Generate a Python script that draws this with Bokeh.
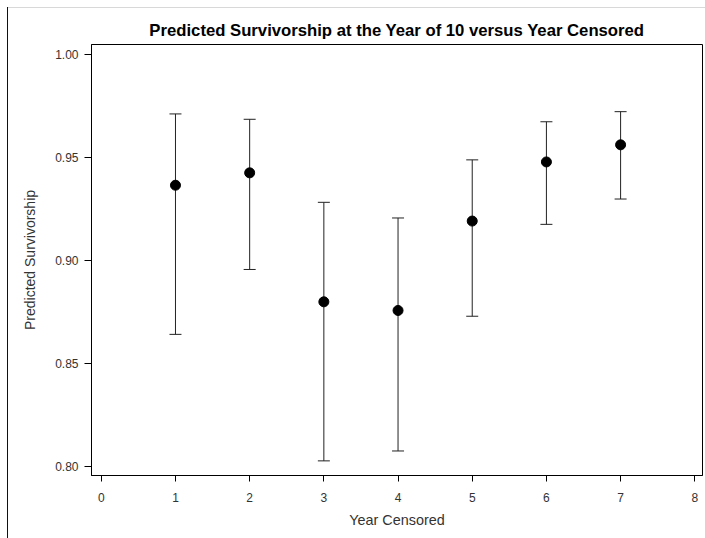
from bokeh.plotting import figure
from bokeh.models import Range1d, FixedTicker, Whisker, ColumnDataSource, TeeHead, InlineStyleSheet
from bokeh.embed import file_html
from bokeh.resources import INLINE

years = [1, 2, 3, 4, 5, 6, 7]
survival = [0.9364, 0.9424, 0.8798, 0.8756, 0.9190, 0.9477, 0.9560]
lower = [0.8640, 0.8955, 0.8026, 0.8074, 0.8728, 0.9174, 0.9297]
upper = [0.9710, 0.9684, 0.9281, 0.9205, 0.9487, 0.9672, 0.9721]
x_ticks = [0, 1, 2, 3, 4, 5, 6, 7, 8]
y_ticks = [0.80, 0.85, 0.90, 0.95, 1.00]

src = ColumnDataSource(dict(x=years, y=survival, lo=lower, hi=upper))

FONT = "Liberation Sans"

p = figure(width=705, height=538, output_backend="svg", toolbar_location=None,
           x_range=Range1d(-0.132, 8.104), y_range=Range1d(0.7955, 1.0047),
           min_border_left=91, min_border_right=3, min_border_top=44, min_border_bottom=63,
           title="Predicted Survivorship at the Year of 10 versus Year Censored")

p.title.align = "center"
p.title.text_font = FONT
p.title.text_font_size = "16.7px"
p.title.text_font_style = "bold"
p.title.text_color = "black"

p.grid.visible = False
p.outline_line_color = "black"
p.outline_line_width = 1
p.background_fill_color = "white"
p.border_fill_color = "white"

for ax in (p.xaxis[0], p.yaxis[0]):
    ax.major_tick_in = 0
    ax.minor_tick_out = 0
    ax.minor_tick_in = 0
    ax.major_tick_line_color = "black"
    ax.axis_line_color = "black"
    ax.major_label_text_font = FONT
    ax.major_label_text_font_size = "12px"
    ax.major_label_text_color = "#333333"
    ax.axis_label_text_font = FONT
    ax.axis_label_text_font_style = "normal"
    ax.axis_label_text_color = "#333333"

p.xaxis.major_tick_out = 6
p.xaxis.major_label_standoff = 11
p.xaxis.axis_label_standoff = 7
p.xaxis.axis_label_text_font_size = "14.4px"
p.yaxis.major_tick_out = 7
p.yaxis.major_label_standoff = 6
p.yaxis.axis_label_standoff = 14
p.yaxis.axis_label_text_font_size = "14px"

p.xaxis.ticker = FixedTicker(ticks=x_ticks)
p.yaxis.ticker = FixedTicker(ticks=y_ticks)
p.yaxis.major_label_overrides = {t: f"{t:.2f}" for t in y_ticks}
p.xaxis.axis_label = "Year Censored"
p.yaxis.axis_label = "Predicted Survivorship"

w = Whisker(base="x", lower="lo", upper="hi", source=src,
            line_color="#222222", line_width=1,
            upper_head=TeeHead(size=12, line_color="#222222", line_width=1),
            lower_head=TeeHead(size=12, line_color="#222222", line_width=1))
p.add_layout(w)
p.scatter("x", "y", source=src, size=10, fill_color="black", line_color="black")

p.stylesheets = [InlineStyleSheet(css="""
:host::before { content: ""; position: absolute; left: 7px; top: 7px; right: 0; height: 1px;
  background: #d8d8d8; z-index: 10; pointer-events: none; }
:host::after { content: ""; position: absolute; left: 7px; top: 7px; bottom: 0; width: 1px;
  background: #111111; z-index: 10; pointer-events: none; }
""")]

open("out.html", "w").write(file_html(p, INLINE))
